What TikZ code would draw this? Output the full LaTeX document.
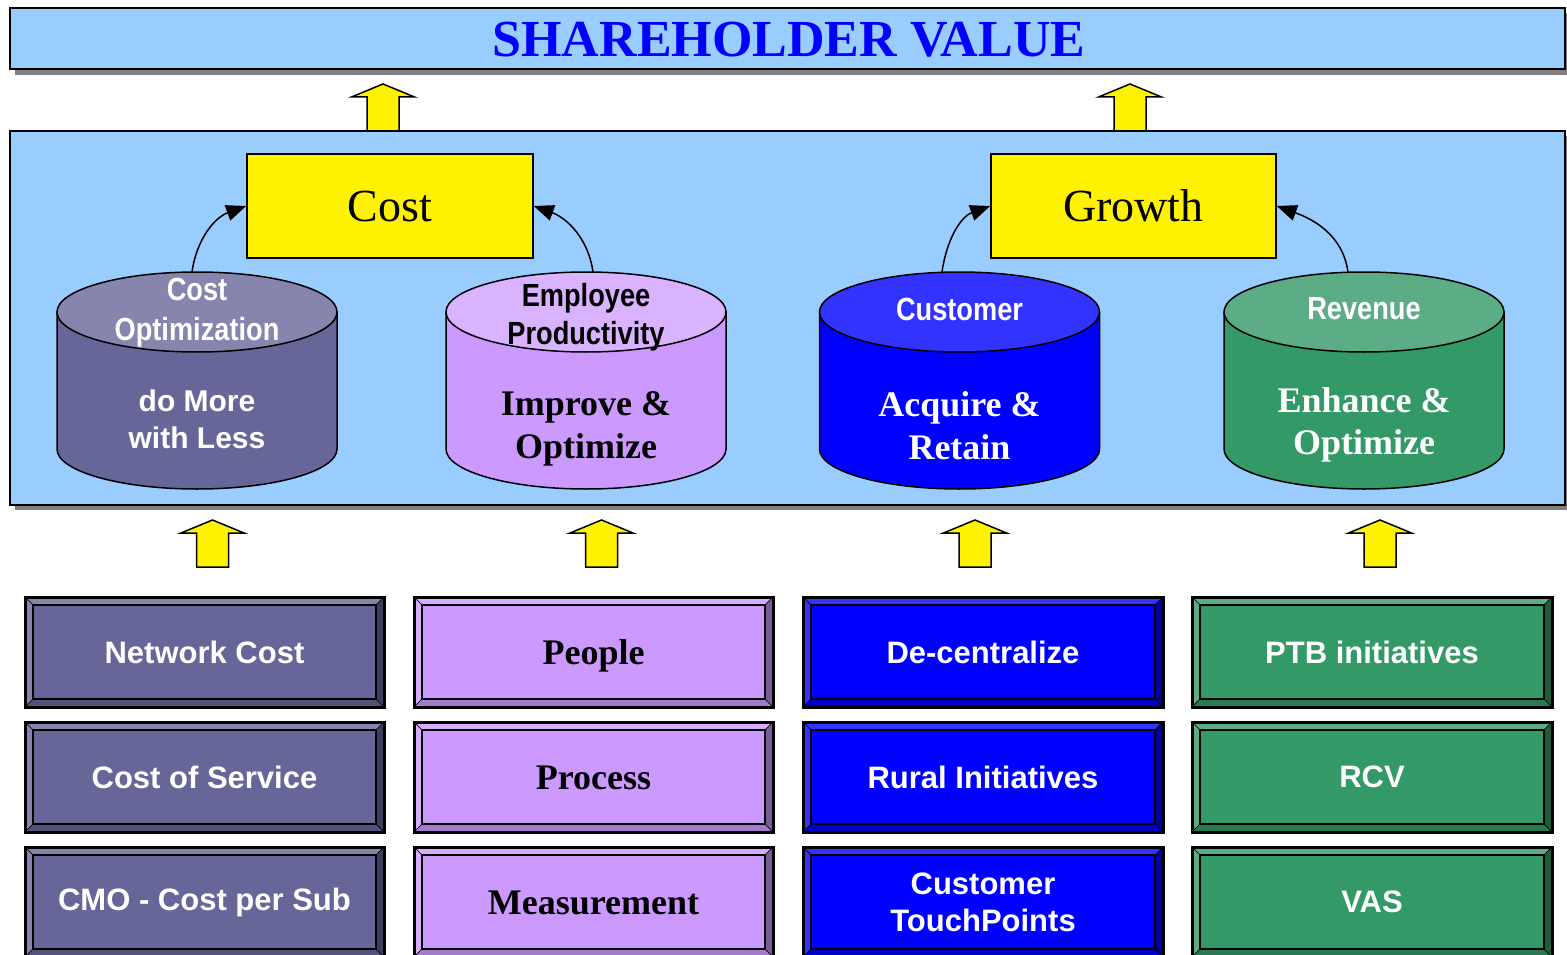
\documentclass[tikz,border=0pt]{standalone}
\usepackage{fontspec}
\setmainfont{Liberation Serif}
\newfontfamily\arialf{Liberation Sans}
\newfontfamily\narrowf[FakeStretch=0.85]{Liberation Sans}
\usetikzlibrary{arrows.meta}
\definecolor{skyb}{HTML}{99CCFF}
\definecolor{titleblue}{HTML}{0000FF}
\definecolor{shadowgray}{HTML}{808080}
% cylinder colours
\definecolor{c1body}{HTML}{666699}\definecolor{c1top}{HTML}{8585AD}
\definecolor{c2body}{HTML}{CC99FF}\definecolor{c2top}{HTML}{D9B3FF}
\definecolor{c3body}{HTML}{0000FF}\definecolor{c3top}{HTML}{3333FF}
\definecolor{c4body}{HTML}{339966}\definecolor{c4top}{HTML}{5CAD85}
% bevel box colours
\definecolor{Aface}{HTML}{666699}\definecolor{Alight}{HTML}{8585AD}\definecolor{Abot}{HTML}{52527A}\definecolor{Aright}{HTML}{3D3D5C}
\definecolor{Bface}{HTML}{CC99FF}\definecolor{Blight}{HTML}{D6ADFF}\definecolor{Bbot}{HTML}{A37ACC}\definecolor{Bright}{HTML}{7A5C99}
\definecolor{Cface}{HTML}{0000FF}\definecolor{Clight}{HTML}{3333FF}\definecolor{Cbot}{HTML}{0000CC}\definecolor{Cright}{HTML}{000099}
\definecolor{Dface}{HTML}{339966}\definecolor{Dlight}{HTML}{5CAD85}\definecolor{Dbot}{HTML}{297A52}\definecolor{Dright}{HTML}{1F5C3D}

\tikzset{
  yarrow/.pic={\filldraw[fill=yellow, draw=black, line width=1.5, line join=miter]
     (-16,0) -- (-16,34) -- (-31.5,34) -- (0,47) -- (31.5,34) -- (16,34) -- (16,0) -- cycle;},
  ybox/.style={draw=black, fill=yellow, line width=1.5, inner sep=0pt,
     minimum height=104pt, font=\fontsize{46}{50}\selectfont},
  conn/.style={line width=1.5, -{Triangle[length=20pt,width=16pt]}},
  toplbl/.style={font=\narrowf\bfseries\fontsize{32}{40}\selectfont, align=center, inner sep=0pt},
  sanslbl/.style={font=\arialf\bfseries\fontsize{31}{37}\selectfont, align=center, text=white, inner sep=0pt},
  seriflbl/.style={font=\bfseries\fontsize{36}{43}\selectfont, align=center, inner sep=0pt},
  serifbox/.style={seriflbl, text height=24pt, text depth=0pt},
}

% bevel box: x1 y1 x2 y2 (y downwards), colour prefix, name, style, text
\newcommand\bevbox[8]{%
  \fill[#5face] (#1,-#2) rectangle (#3,-#4);
  \filldraw[fill=#5light, draw=black, line width=0.6] (#1,-#2) -- (#3,-#2) -- (#3-8,-#2-8) -- (#1+8,-#2-8) -- cycle;
  \filldraw[fill=#5light, draw=black, line width=0.6] (#1,-#2) -- (#1+8,-#2-8) -- (#1+8,-#4+8) -- (#1,-#4) -- cycle;
  \filldraw[fill=#5bot, draw=black, line width=0.6] (#1,-#4) -- (#1+8,-#4+8) -- (#3-8,-#4+8) -- (#3,-#4) -- cycle;
  \filldraw[fill=#5right, draw=black, line width=0.6] (#3,-#2) -- (#3,-#4) -- (#3-8,-#4+8) -- (#3-8,-#2-8) -- cycle;
  \draw[line width=2] (#1+8,-#2-8) rectangle (#3-8,-#4+8);
  \draw[line width=3] (#1,-#2) rectangle (#3,-#4);
  \node[#7] (#6) at ({(#1+#3)/2},{-(#2+#4)/2}) {#8};
}
% cylinder: cx, colour prefix, name of top coordinate, x of that coordinate
\newcommand\cyl[4]{%
  \filldraw[fill=#2body, line width=1.5] (#1-140,-312) -- (#1-140,-449)
     arc[start angle=180, end angle=360, x radius=140, y radius=40] -- (#1+140,-312) -- cycle;
  \filldraw[fill=#2top, line width=1.5] (#1,-312) ellipse[x radius=140, y radius=40];
  \coordinate (#3) at (#4,-272);
}

\begin{document}
\begin{tikzpicture}[x=1pt,y=1pt]
\useasboundingbox (0,0) rectangle (1567,-955);
\fill[white] (0,0) rectangle (1567,-955);

% banner
\fill[shadowgray] (15,-13) rectangle (1572,-75);
\draw[fill=skyb, line width=1.5] (10,-8) rectangle (1565,-69);
\node[font=\bfseries\fontsize{52}{60}\selectfont, text=titleblue, inner sep=0pt] (sv) at (789,-40) {SHAREHOLDER VALUE};

% main panel
\fill[shadowgray] (15,-136) rectangle (1572,-510);
\draw[fill=skyb, line width=1.5] (10,-131) rectangle (1565,-505);

% upper arrows
\pic at (383,-131) {yarrow};
\pic at (1130,-131) {yarrow};

% Cost / Growth
\node[ybox, minimum width=286pt] (cost) at (390,-206) {Cost};
\node[ybox, minimum width=285pt] (growth) at (1133.5,-206) {Growth};

% cylinders
\cyl{197}{c1}{t1}{192}
\cyl{586}{c2}{t2}{593}
\cyl{959.5}{c3}{t3}{942}
\cyl{1364}{c4}{t4}{1348}

\node[toplbl, text=white] (cyl1a) at (197,-313) {Cost\\Optimization};
\node[sanslbl, font=\arialf\bfseries\fontsize{30}{37}\selectfont] (cyl1b) at (197,-419) {do More\\with Less};
\node[toplbl, text=black, font=\narrowf\bfseries\fontsize{32}{38}\selectfont] (cyl2a) at (586,-317) {Employee\\Productivity};
\node[seriflbl, text=black] (cyl2b) at (586,-429) {Improve \&\\Optimize};
\node[toplbl, text=white] (cyl3a) at (959.5,-309) {Customer};
\node[seriflbl, text=white] (cyl3b) at (959.5,-426) {Acquire \&\\Retain};
\node[toplbl, text=white] (cyl4a) at (1364,-309) {Revenue};
\node[seriflbl, text=white, font=\bfseries\fontsize{36}{42}\selectfont] (cyl4b) at (1364,-425) {Enhance \&\\Optimize};

% curved connectors
\draw[conn] (t1) to[out=82, in=200] (cost.west);
\draw[conn] (t2) to[out=98, in=340] (cost.east);
\draw[conn] (t3) to[out=82, in=200] (growth.west);
\draw[conn] (t4) to[out=98, in=340] (growth.east);

% lower arrows
\pic at (212.5,-567) {yarrow};
\pic at (601.5,-567) {yarrow};
\pic at (975,-567) {yarrow};
\pic at (1380,-567) {yarrow};

% bottom boxes
\bevbox{25}{597}{384}{707}{A}{b11}{sanslbl}{Network Cost}
\bevbox{25}{722}{384}{832}{A}{b12}{sanslbl}{Cost of Service}
\bevbox{25}{847}{384}{957}{A}{b13}{sanslbl}{CMO - Cost per Sub}

\bevbox{414}{597}{773}{707}{B}{b21}{serifbox}{People}
\bevbox{414}{722}{773}{832}{B}{b22}{serifbox}{Process}
\bevbox{414}{847}{773}{957}{B}{b23}{serifbox}{Measurement}

\bevbox{803}{597}{1163}{707}{C}{b31}{sanslbl}{De-centralize}
\bevbox{803}{722}{1163}{832}{C}{b32}{sanslbl}{Rural Initiatives}
\bevbox{803}{847}{1163}{957}{C}{b33}{sanslbl}{Customer\\TouchPoints}

\bevbox{1192}{597}{1552}{707}{D}{b41}{sanslbl}{PTB initiatives}
\bevbox{1192}{722}{1552}{832}{D}{b42}{sanslbl}{RCV}
\bevbox{1192}{847}{1552}{957}{D}{b43}{sanslbl}{VAS}
\end{tikzpicture}
\end{document}
